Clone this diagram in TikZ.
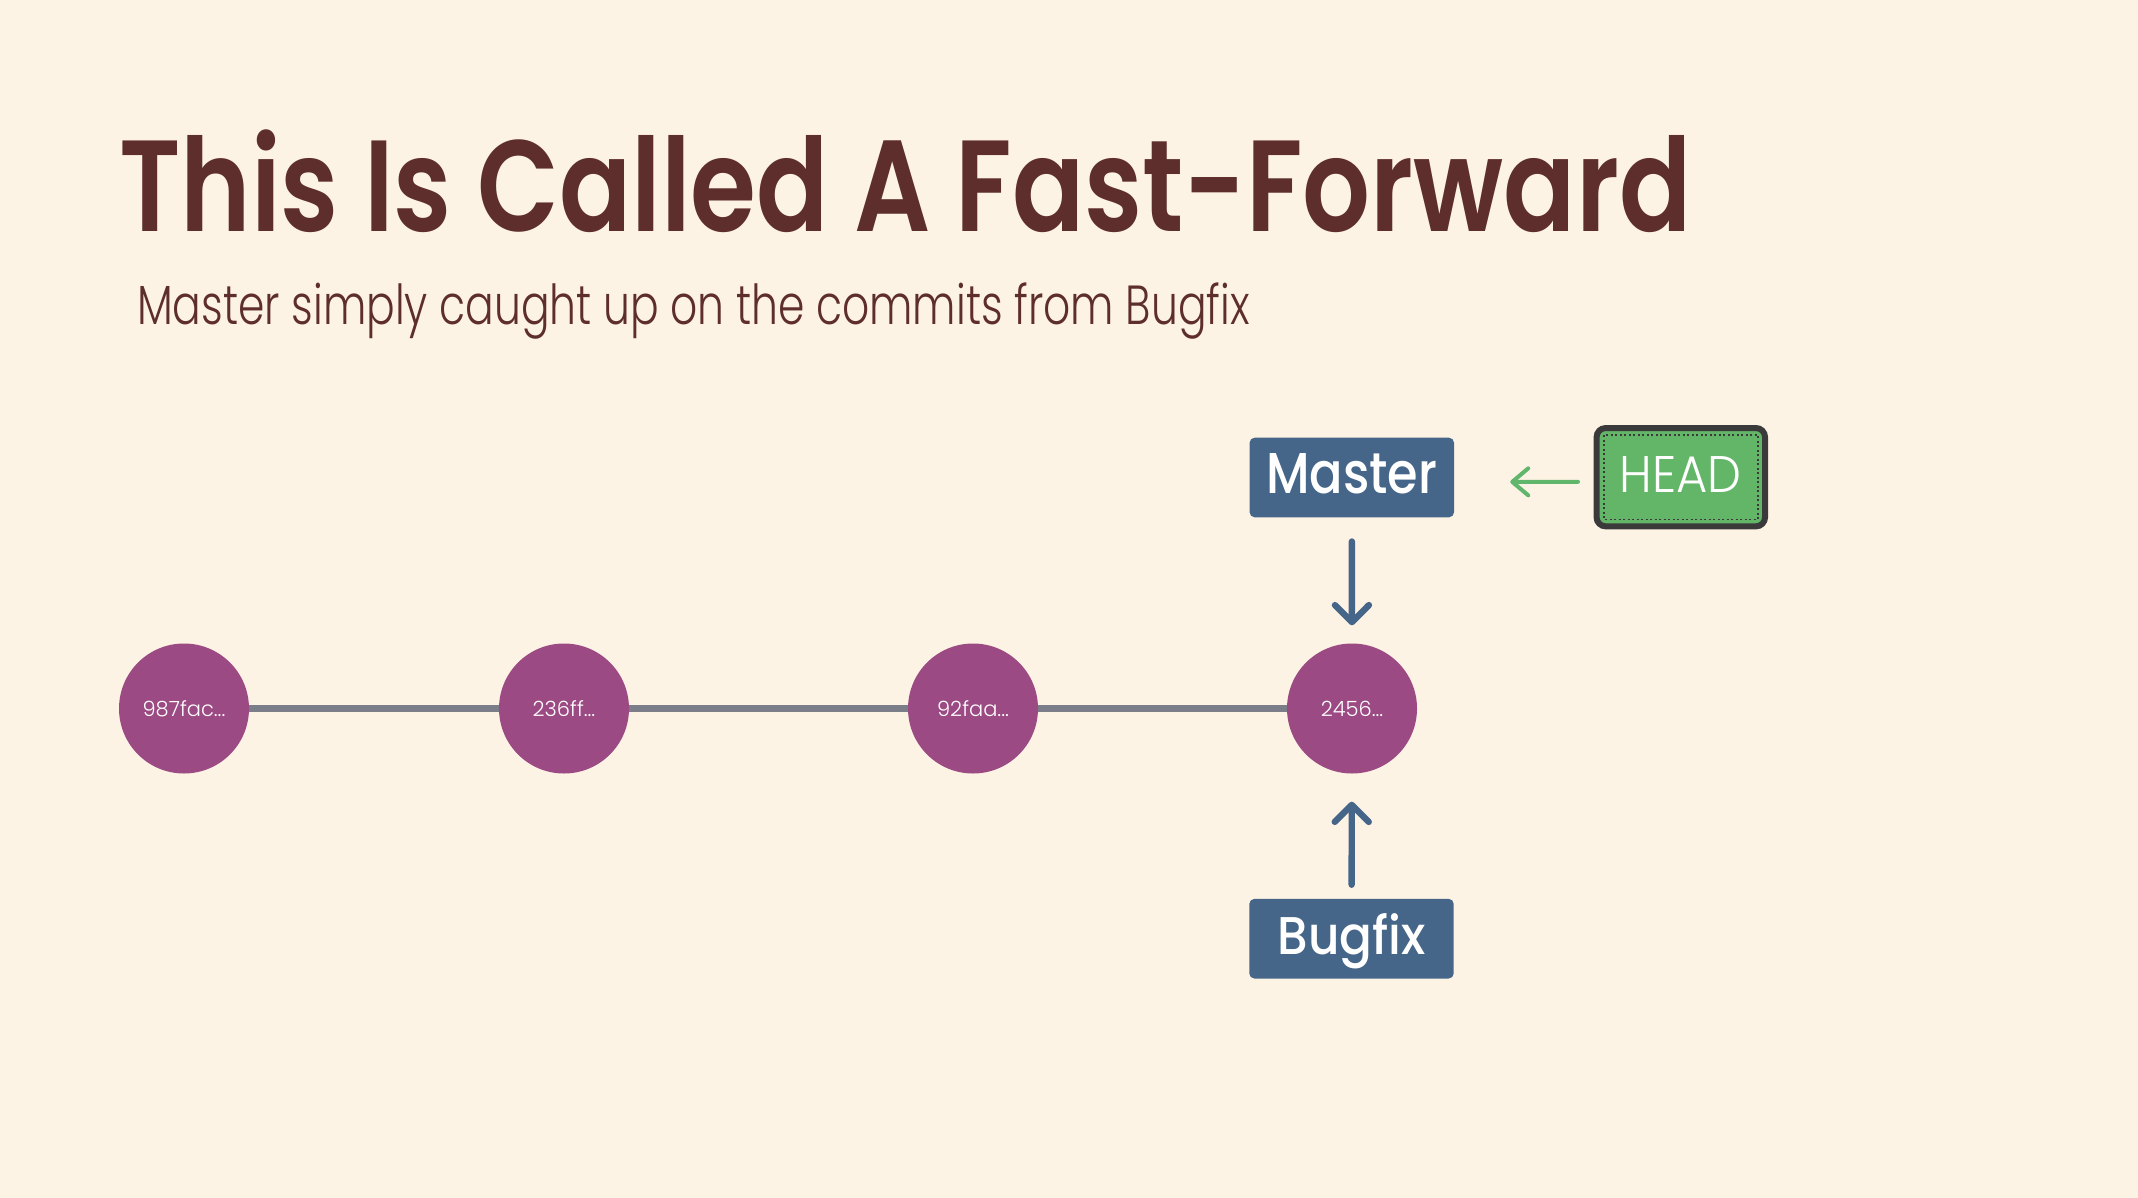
\documentclass[tikz,border=0pt]{standalone}
\usepackage{fontspec}
\setmainfont{Poppins}
\newfontfamily\psemi{Poppins SemiBold}
\newfontfamily\pmed{Poppins Medium}
\newfontfamily\plight{Poppins Light}
\usetikzlibrary{arrows.meta,calc}
\definecolor{bgc}{HTML}{FDF3E4}
\definecolor{titlec}{HTML}{5E2E2C}
\definecolor{commitc}{HTML}{9C4A83}
\definecolor{linec}{HTML}{7B7E89}
\definecolor{bluec}{HTML}{466689}
\definecolor{greenc}{HTML}{63B567}
\definecolor{garrowc}{HTML}{60B66A}
\definecolor{borderc}{HTML}{3A3A3A}
\newcommand\fitbox[3]{\resizebox{#1}{#2}{#3}}
\begin{document}
\begin{tikzpicture}[x=1pt,y=-1pt,
  commit/.style={circle,fill=commitc,minimum size=130pt,inner sep=0pt,text=white,font=\plight\fontsize{21}{21}\selectfont},
  branchbox/.style={rectangle,rounded corners=5pt,fill=bluec,minimum width=204.4pt,minimum height=79.6pt,inner sep=0pt,text=white},
  headbox/.style={rectangle,rounded corners=9pt,fill=greenc,draw=borderc,line width=6pt,minimum width=168.4pt,minimum height=98.3pt,inner sep=0pt,text=white},
  histline/.style={draw=linec,line width=7pt},
  barrow/.style={draw=bluec,line width=6.4pt,line cap=round,-{Straight Barb[length=17pt,width=34pt,line cap=round,line join=round]}},
  garrow/.style={draw=garrowc,line width=4pt,line cap=round,-{Straight Barb[length=16pt,width=27pt,line cap=round,line join=round]}}
]
\fill[bgc] (0,0) rectangle (2138,1198);
\useasboundingbox (0,0) rectangle (2138,1198);

\node[anchor=base west,inner sep=0pt,text=titlec] (title) at (119,231.7)
  {\fitbox{1571pt}{101.7pt}{\psemi This Is Called A Fast-Forward}};
\node[anchor=base west,inner sep=0pt,text=titlec] (subtitle) at (137,324.4)
  {\fitbox{1112pt}{41.7pt}{\plight Master simply caught up on the commits from Bugfix}};

\node[commit] (c1) at (184,708.5) {987fac...};
\node[commit] (c2) at (564,708.5) {236ff...};
\node[commit] (c3) at (973,708.5) {92faa...};
\node[commit] (c4) at (1352,708.5) {2456...};

\draw[histline] (c1) -- (c2);
\draw[histline] (c2) -- (c3);
\draw[histline] (c3) -- (c4);

\node[branchbox,text height=40pt,text depth=8.4pt] (master) at (1351.8,477.5)
  {\fitbox{171pt}{40pt}{\pmed Master}};
\node[branchbox,text height=41pt,text depth=10.4pt] (bugfix) at (1351.5,938.7)
  {\fitbox{148pt}{41pt}{\pmed Bugfix}};
\node[headbox,text height=36pt,text depth=5pt] (head) at (1680.8,477.2)
  {\fitbox{122pt}{36pt}{\plight HEAD}};
\draw[borderc,line width=1.4pt,dash pattern=on 2pt off 2.5pt]
  ($(head.north west)+(10.4,10)$) rectangle ($(head.south east)+(-10,-10)$);

\draw[barrow,shorten <=24pt,shorten >=18pt] (master) -- (c4);
\draw[barrow,shorten <=14pt,shorten >=28pt] (bugfix) -- (c4);
\draw[garrow,shorten <=15.6pt,shorten >=56pt,transform canvas={yshift=-4.5pt}] (head) -- (master);
\end{tikzpicture}
\end{document}
